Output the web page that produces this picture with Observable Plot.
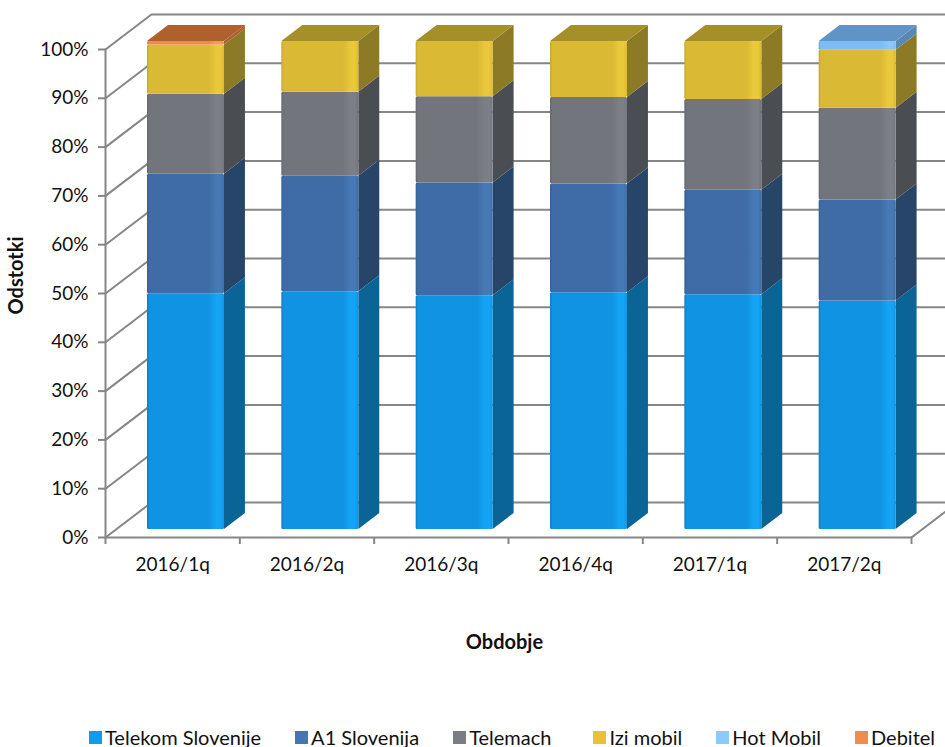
<!DOCTYPE html>
<html><head><meta charset="utf-8">
<script src="https://cdn.jsdelivr.net/npm/d3@7"></script>
<script src="https://cdn.jsdelivr.net/npm/@observablehq/plot@0.6"></script>
<style>
html,body{margin:0;padding:0;background:#fff;width:945px;height:747px;overflow:hidden;font-family:Lato,sans-serif}
#legend{display:flex;gap:34px;padding-left:89px;height:29px;align-items:center;font-size:20px;color:#111;white-space:nowrap}
#legend span.i{display:flex;align-items:center;gap:3px}
#legend span.i:nth-child(4){margin-left:8px}
#legend i{display:block;width:13px;height:13px;transform:translateY(1px)}
svg{display:block}
</style></head><body>
<div id="chart"></div><div id="legend"></div>
<script>
const periods = ["2016/1q","2016/2q","2016/3q","2016/4q","2017/1q","2017/2q"];
const telekom = [48.3,48.7,47.9,48.5,48.1,46.8];
const a1      = [24.5,23.7,23.1,22.3,21.4,20.7];
const telemach= [16.4,17.2,17.7,17.7,18.6,18.8];
const izi     = [10.1,10.4,11.3,11.5,11.9,11.9];
const hot     = [0,0,0,0,0,1.8];
const debitel = [0.7,0,0,0,0,0];
const seriesNames = ["Telekom Slovenije","A1 Slovenija","Telemach","Izi mobil","Hot Mobil","Debitel"];
const seriesValues = [telekom,a1,telemach,izi,hot,debitel];
const frontColors = ["#0f93e2","#3f6ca6","#72767c","#dab934","#7dbcf5","#ef8a47"];
const sideColors  = ["#0a6496","#274469","#4a4d52","#8c7a26","#5a88b0","#ae612d"];
const topColors   = ["#0a6a9e","#2c4c74","#55585d","#a58f29","#6194c6","#ae612d"];
const legendColors= ["#0f9bf0","#4476b3","#7a7e84","#e8c336","#8ccafb","#f08c4c"];
const hiColors    = ["#14a4f5","#4679b6","#7c8086","#e9c83a","#8cc6f8","#f59a55"];
const edgeColors  = ["#0b7ec4","#365f92","#63676c","#c4a62c","#6aa6dc","#d87a3c"];

// chart geometry, in data units (categories / percent)
const barLeft=.3127, barW=.573, barDX=.156, barDY=3.28, floorY=1.64, wallDX=.342, wallDY=7.17;
const ticksY=d3.range(0,101,10);

const fronts=[], sides=[], tops=[];
periods.forEach((p,b)=>{
  let acc=0, topIdx=0;
  seriesValues.forEach((vals,s)=>{
    const v=vals[b]; if(!v) return;
    const y1=acc+floorY, y2=acc+v+floorY; acc+=v; topIdx=s;
    const L=b+barLeft, R=L+barW, k=b+"-"+s;
    fronts.push({L,R,y1,y2,s});
    sides.push({k,s,x:R,y1,y2},{k,s,x:R+barDX,y1:y1+barDY,y2:y2+barDY});
  });
  const T=acc+floorY, L=b+barLeft, R=L+barW, s=topIdx;
  tops.push({k:b,s,x:L,y1:T,y2:T},{k:b,s,x:L+barDX,y1:T,y2:T+barDY},{k:b,s,x:R,y1:T,y2:T+barDY},{k:b,s,x:R+barDX,y1:T+barDY,y2:T+barDY});
});
const grid=ticksY.flatMap(v=>[{v,x:0,y:v},{v,x:wallDX,y:v+wallDY},{v,x:periods.length+wallDX,y:v+wallDY}]);
const floorEdge=[{x:periods.length,y:0},{x:periods.length+wallDX,y:wallDY}];
const frontAxes=[{x:0,y:100},{x:0,y:0},{x:periods.length,y:0}];
const axisColor="#868686";

const defs=()=>{
  const d=d3.create("svg:defs");
  frontColors.forEach((c,i)=>{
    const g=d.append("linearGradient").attr("id","f"+i);
    [[0,edgeColors[i]],[.03,c],[.8,c],[.9,hiColors[i]],[.96,hiColors[i]],[1,c]]
      .forEach(([o,col])=>g.append("stop").attr("offset",o).attr("stop-color",col));
  });
  return d.node();
};

const chart=Plot.plot({
  width:945,height:722,marginLeft:105,marginRight:34,marginTop:49,marginBottom:185,
  style:{fontFamily:"Lato,sans-serif",fontSize:"19px",color:"#111",background:"#fff"},
  x:{type:"linear",domain:[0,periods.length],axis:null},
  y:{domain:[0,100],axis:null},
  color:{type:"identity"},
  marks:[
    defs,
    Plot.line(grid,{x:"x",y:"y",z:"v",stroke:axisColor,strokeWidth:2}),
    Plot.line(floorEdge,{x:"x",y:"y",stroke:axisColor,strokeWidth:2}),
    Plot.line(frontAxes,{x:"x",y:"y",stroke:axisColor,strokeWidth:2}),
    Plot.axisY({ticks:ticksY,tickFormat:d=>d+"%",tickSize:7,tickPadding:10,stroke:axisColor,strokeWidth:2,fill:"#111",label:null,fontSize:19}),
    Plot.axisX({ticks:d3.range(0,periods.length+1),tickFormat:()=>"",tickSize:7,stroke:axisColor,strokeWidth:2,label:null}),
    Plot.axisX({ticks:periods.map((_,i)=>i+.5),tickFormat:d=>periods[d-.5],tickSize:0,tickPadding:20,fill:"#111",label:null,fontSize:19}),
    Plot.area(sides,{x1:"x",y1:"y1",y2:"y2",z:"k",fill:d=>sideColors[d.s]}),
    Plot.area(tops,{x1:"x",y1:"y1",y2:"y2",z:"k",fill:d=>topColors[d.s]}),
    Plot.rect(fronts,{x1:"L",x2:"R",y1:"y1",y2:"y2",fill:d=>`url(#f${d.s})`,rx:1.5}),
    Plot.text(["Obdobje"],{x:()=>2.97,y:()=>-21.5,fontWeight:"bold",fontSize:20,fill:"#111"}),
    Plot.text(["Odstotki"],{x:()=>-.66,y:()=>53.7,rotate:-90,fontWeight:"bold",fontSize:20,fill:"#111"})
  ]
});
document.getElementById("chart").append(chart);
const lg=document.getElementById("legend");
seriesNames.forEach((n,i)=>{
  const s=document.createElement("span");s.className="i";
  const sw=document.createElement("i");sw.style.background=legendColors[i];
  s.append(sw,document.createTextNode(n));lg.append(s);
});
</script>
</body></html>
